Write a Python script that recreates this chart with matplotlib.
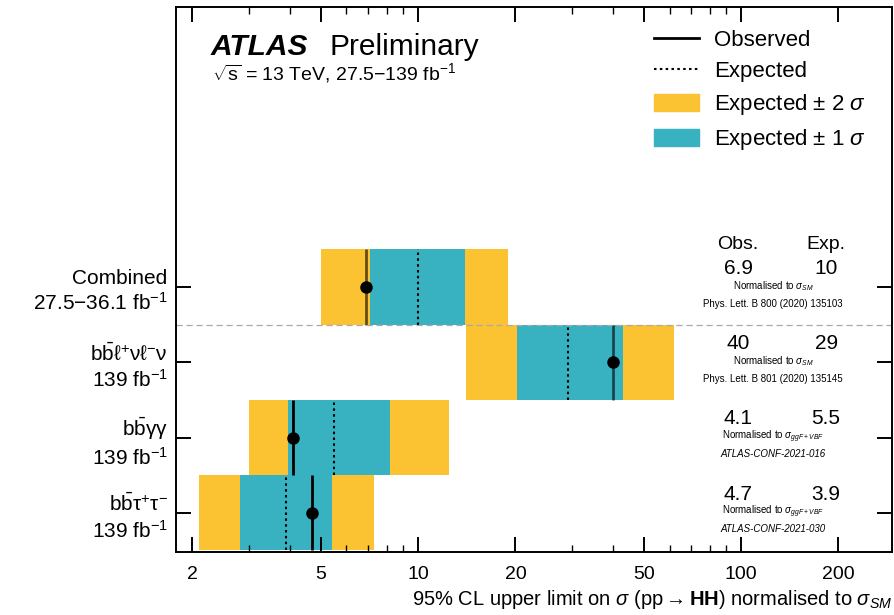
import matplotlib
matplotlib.use('Agg')
import matplotlib.pyplot as plt
import matplotlib.transforms as mtransforms
from matplotlib.lines import Line2D
from matplotlib.patches import Patch
from matplotlib.ticker import FixedLocator, NullFormatter, FixedFormatter

plt.rcParams['font.family'] = ['Liberation Sans', 'DejaVu Sans']
plt.rcParams['mathtext.fontset'] = 'custom'
plt.rcParams['mathtext.rm'] = 'Liberation Sans'
plt.rcParams['mathtext.it'] = 'Liberation Sans:italic'
plt.rcParams['mathtext.bf'] = 'Liberation Sans:bold'

# channels, top to bottom
labels = ['Combined\n27.5$-$36.1 fb$^{-1}$',
          '$\\mathrm{b\\bar{b}\\ell^{+}\\nu\\ell^{-}\\nu}$\n139 fb$^{-1}$',
          '$\\mathrm{b\\bar{b}\\gamma\\gamma}$\n139 fb$^{-1}$',
          '$\\mathrm{b\\bar{b}\\tau^{+}\\tau^{-}}$\n139 fb$^{-1}$']
obs = [6.9, 40, 4.1, 4.7]
exp = [10, 29, 5.5, 3.9]
exp_m2 = [5.0, 14.1, 3.0, 2.1]
exp_m1 = [7.1, 20.2, 3.95, 2.8]
exp_p1 = [14.0, 43.2, 8.2, 5.4]
exp_p2 = [19.0, 62.0, 12.5, 7.3]
obs_txt = ['6.9', '40', '4.1', '4.7']
exp_txt = ['10', '29', '5.5', '3.9']
norm_txt = [r'Normalised to $\sigma_{SM}$', r'Normalised to $\sigma_{SM}$',
            r'Normalised to $\sigma_{ggF+VBF}$', r'Normalised to $\sigma_{ggF+VBF}$']
ref_txt = ['Phys. Lett. B 800 (2020) 135103', 'Phys. Lett. B 801 (2020) 135145',
           'ATLAS-CONF-2021-016', 'ATLAS-CONF-2021-030']
xticks = [2, 5, 10, 20, 50, 100, 200]

yellow = '#fbc232'
cyan = '#38b2c1'

fig = plt.figure(figsize=(8.94, 6.15), dpi=100)
ax = fig.add_axes([176/894, 1 - 552/615, 716/894, 545/615])
ax.set_xscale('log')

ypos = [3, 2, 1, 0]
for i, y in enumerate(ypos):
    ax.barh(y, exp_p2[i] - exp_m2[i], left=exp_m2[i], height=1.0, color=yellow, lw=0)
    ax.barh(y, exp_p1[i] - exp_m1[i], left=exp_m1[i], height=1.0, color=cyan, lw=0)
    ax.vlines(exp[i], y - 0.5, y + 0.5, colors='black', linestyles=(0, (1.2, 1.6)), lw=1.5)
    ax.vlines(obs[i], y - 0.5, y + 0.5, colors='black', lw=2.0, alpha=0.6 if y >= 2 else 1.0)
    ax.plot(obs[i], y, 'o', color='black', ms=8)

# separator between combined and new results
ax.axhline(2.5, color='#aaaaaa', ls=(0, (5, 3)), lw=0.9)

ax.set_xlim(1.78, 293)
ax.set_ylim(-0.52, 6.72)

ax.xaxis.set_major_locator(FixedLocator(xticks))
ax.xaxis.set_major_formatter(FixedFormatter([str(t) for t in xticks]))
minor = [v * d for d in (1, 10, 100) for v in range(2, 10)]
minor = [m for m in minor if m not in xticks]
ax.xaxis.set_minor_locator(FixedLocator(minor))
ax.xaxis.set_minor_formatter(NullFormatter())
ax.set_yticks(ypos)
ax.set_yticklabels(labels, fontsize=15, linespacing=1.25)
ax.tick_params(axis='both', which='major', direction='in', top=True, right=True,
               length=11, width=1.4, labelsize=14)
ax.tick_params(axis='x', which='minor', direction='in', top=True, length=5, width=1.0)
ax.tick_params(axis='x', pad=10)
ax.tick_params(axis='y', labelsize=15, pad=6)
for s in ax.spines.values():
    s.set_linewidth(1.4)

ax.set_xlabel(r'95% CL upper limit on $\sigma$ (pp$\rightarrow\mathbf{HH}$) normalised to $\sigma_{SM}$',
              fontsize=14.5, loc='right', labelpad=4)

# right-hand summary columns
tr = mtransforms.blended_transform_factory(ax.transAxes, ax.transData)
ax.text(0.785, 3.57, 'Obs.', transform=tr, ha='center', va='center', fontsize=14)
ax.text(0.908, 3.57, 'Exp.', transform=tr, ha='center', va='center', fontsize=14)
for i, y in enumerate(ypos):
    ax.text(0.785, y + 0.25, obs_txt[i], transform=tr, ha='center', va='center', fontsize=15)
    ax.text(0.908, y + 0.25, exp_txt[i], transform=tr, ha='center', va='center', fontsize=15)
    ax.text(0.834, y + 0.01, norm_txt[i], transform=tr, ha='center', va='center', fontsize=7)
    ax.text(0.834, y - 0.22, ref_txt[i], transform=tr, ha='center', va='center', fontsize=7,
            style='italic' if 'CONF' in ref_txt[i] else 'normal')

# experiment label
ax.text(0.049, 0.912, 'ATLAS', transform=ax.transAxes, fontsize=21.5, weight='bold', style='italic')
ax.text(0.215, 0.912, 'Preliminary', transform=ax.transAxes, fontsize=21.5)
ax.text(0.05, 0.866, r'$\sqrt{\mathrm{s}}$ = 13 TeV, 27.5$-$139 fb$^{-1}$', transform=ax.transAxes,
        fontsize=14)

handles = [Line2D([], [], color='black', lw=2),
           Line2D([], [], color='black', ls=(0, (1.2, 1.6)), lw=1.5),
           Patch(color=yellow), Patch(color=cyan)]
names = ['Observed', 'Expected', r'Expected $\pm$ 2 $\sigma$', r'Expected $\pm$ 1 $\sigma$']
ax.legend(handles, names, loc='upper left', bbox_to_anchor=(0.64, 0.995), frameon=False,
          fontsize=16, handlelength=2.0, handleheight=0.8, labelspacing=0.45, handletextpad=0.7)

fig.savefig('out.png', dpi=100)
